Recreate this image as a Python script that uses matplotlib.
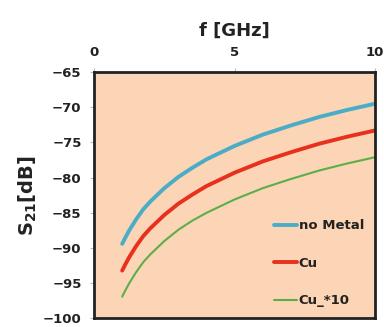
import matplotlib
matplotlib.use("Agg")
from matplotlib import pyplot as plt

freq = [1, 1.1, 1.25, 1.5, 1.75, 2, 2.5, 3, 3.5, 4, 5, 6, 7, 8, 9, 10]
no_metal = [-89.4, -88.6, -87.5, -85.9, -84.5, -83.4, -81.5, -79.9, -78.6, -77.4,
            -75.5, -73.9, -72.6, -71.4, -70.4, -69.5]
cu = [-93.2, -92.4, -91.3, -89.7, -88.3, -87.2, -85.3, -83.7, -82.4, -81.2,
      -79.3, -77.7, -76.4, -75.2, -74.2, -73.3]
cu_10 = [-96.9, -96.1, -95.0, -93.4, -92.0, -90.9, -89.0, -87.4, -86.1, -85.0,
         -83.1, -81.5, -80.2, -79.0, -78.0, -77.1]
xticks = [0, 5, 10]
yticks = [-65, -70, -75, -80, -85, -90, -95, -100]

plt.rcParams['font.family'] = ['DejaVu Sans']
fig = plt.figure(figsize=(3.84, 3.27), dpi=100)
ax = fig.add_axes([0.245, 0.026, 0.732, 0.754])
ax.set_facecolor("#FBD5B5")

ax.plot(freq, no_metal, color="#4BACC6", lw=2.8, label="no Metal", solid_capstyle="round", solid_joinstyle="round")
ax.plot(freq, cu, color="#E8301E", lw=2.8, label="Cu", solid_capstyle="round", solid_joinstyle="round")
ax.plot(freq, cu_10, color="#5BAF4A", lw=1.5, label="Cu_*10", solid_capstyle="round", solid_joinstyle="round")

ax.set_xlim(0, 10)
ax.set_ylim(-100, -65)
ax.set_xticks(xticks)
ax.set_yticks(yticks)
ax.xaxis.tick_top()
ax.xaxis.set_label_position("top")
ax.tick_params(axis="both", labelsize=9.5, length=3, color="#bbbbbb", pad=6)
for lab in ax.get_xticklabels() + ax.get_yticklabels():
    lab.set_fontweight("bold")
    lab.set_color("#222222")
for sp in ax.spines.values():
    sp.set_linewidth(2)
    sp.set_color("#222222")

ax.set_xlabel("f [GHz]", fontsize=13, fontweight="bold", labelpad=8, color="#222222")
ax.set_ylabel("S$_{\\mathbf{21}}$[dB]", fontsize=14, fontweight="bold", labelpad=3, color="#222222")

leg = ax.legend(loc="lower right", frameon=False, fontsize=9.5, handlelength=1.8,
                handletextpad=0.1, labelspacing=1.85, borderaxespad=0.45)
for t in leg.get_texts():
    t.set_fontweight("bold")
    t.set_color("#222222")

fig.savefig("out.png", dpi=100)
